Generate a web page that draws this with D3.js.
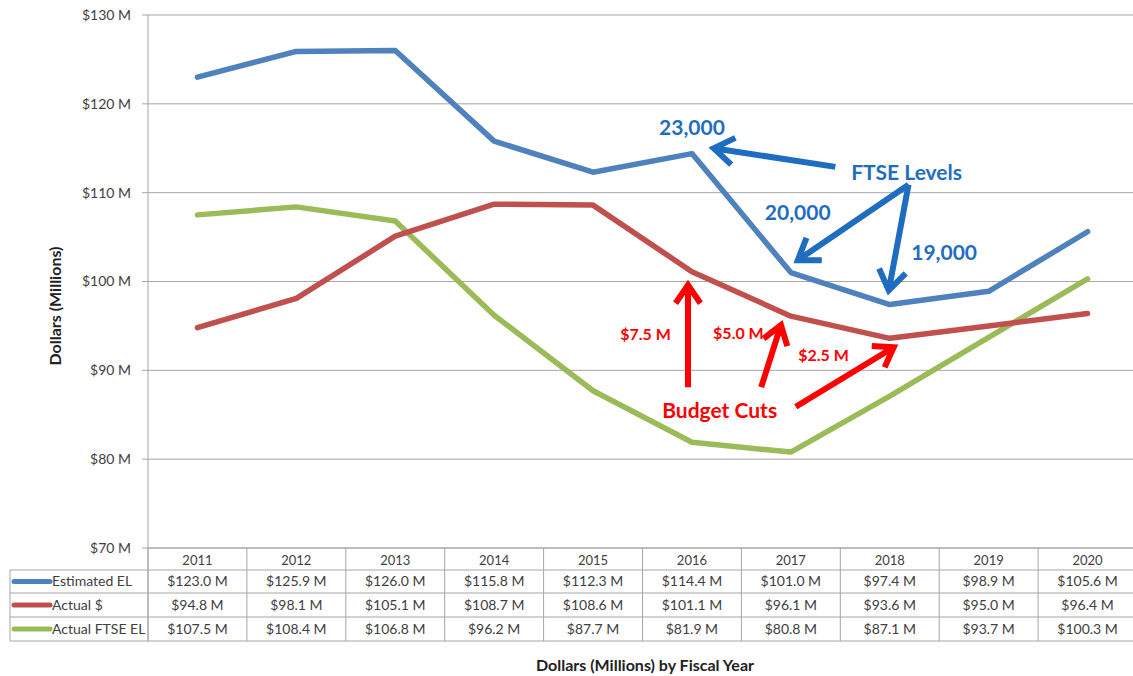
<!DOCTYPE html>
<html><head><meta charset="utf-8">
<script src="https://cdn.jsdelivr.net/npm/d3@7"></script>
<style>body{margin:0;background:#fff}svg{display:block;font-family:Lato,"Open Sans",sans-serif}</style>
</head><body><svg id="c" width="1133" height="676"></svg>
<script>
const years = ["2011","2012","2013","2014","2015","2016","2017","2018","2019","2020"];
const estimatedEL = [123.0,125.9,126.0,115.8,112.3,114.4,101.0,97.4,98.9,105.6];
const actualDollars = [94.8,98.1,105.1,108.7,108.6,101.1,96.1,93.6,95.0,96.4];
const actualFTSE = [107.5,108.4,106.8,96.2,87.7,81.9,80.8,87.1,93.7,100.3];
const seriesNames = ["Estimated EL","Actual $","Actual FTSE EL"];
const seriesColors = ["#4F81BD","#C0504D","#9BBB59"];
const yTicks = [70,80,90,100,110,120,130];
// annotations in data units: x = fractional year index offset from 2011, y = $M
const blueTexts = [["23,000",5.0,117.3],["FTSE Levels",7.17,112.3],["20,000",6.07,107.8],["19,000",7.55,103.2]];
const blueArrows = [[6.45,112.9,5.22,115.0],[7.19,110.9,6.07,102.4],[7.19,110.9,6.99,99.0]];
const redTexts = [["$7.5 M",4.53,94.0,16],["$5.0 M",5.47,94.2,16],["$2.5 M",6.33,91.7,16],["Budget Cuts",5.28,85.5,21]];
const redArrows = [[4.96,88.1,4.96,99.6],[5.70,88.1,5.90,95.1],[6.05,85.9,7.04,92.6]];

const svg = d3.select("#c");
const L = 148, R = 1137, T = 15, B = 548;
const x = d3.scalePoint().domain(years).range([L, R]).padding(0.5);
const step = x.step();
const xi = i => x(years[0]) + i*step;
const y = d3.scaleLinear().domain([70,130]).range([B, T]);
const grid = "#A6A6A6";
const txt = "#404040";

// gridlines
svg.append("g").selectAll("line").data(yTicks).join("line")
  .attr("x1", L-6).attr("x2", R).attr("y1", d=>y(d)).attr("y2", d=>y(d))
  .attr("stroke", grid).attr("stroke-width", 1);
// y axis line
svg.append("line").attr("x1",L).attr("x2",L).attr("y1",T).attr("y2",641).attr("stroke",grid);
// y tick labels
svg.append("g").selectAll("text").data(yTicks).join("text")
  .attr("x", 131).attr("y", d=>y(d)).attr("dy","0.35em").attr("text-anchor","end")
  .attr("font-size",14).attr("fill",txt).text(d=>"$"+d+" M");
// y title
svg.append("text").attr("transform",`translate(55,306) rotate(-90)`).attr("dy","0.35em")
  .attr("text-anchor","middle").attr("font-size",16).attr("font-weight","bold").attr("fill","#222")
  .text("Dollars (Millions)");

// lines
const data = [estimatedEL, actualDollars, actualFTSE];
const line = d3.line().x((d,i)=>x(years[i])).y(d=>y(d));
svg.append("g").selectAll("path").data([actualFTSE, actualDollars, estimatedEL]).join("path")
  .attr("d", line).attr("fill","none")
  .attr("stroke", d=>seriesColors[data.indexOf(d)]).attr("stroke-width",5.5)
  .attr("stroke-linejoin","round").attr("stroke-linecap","round");

// data table
const rowTop = [548,570,593,617,641];
const tg = svg.append("g");
tg.selectAll("line.h").data(rowTop).join("line")
  .attr("x1",(d,i)=> i===0 ? L : 10).attr("x2",R).attr("y1",d=>d).attr("y2",d=>d)
  .attr("stroke",grid);
const vx = d3.range(years.length+1).map(i => L + i*step);
tg.selectAll("line.v").data(vx).join("line")
  .attr("x1",d=>d).attr("x2",d=>d).attr("y1",B).attr("y2",641).attr("stroke",grid);
tg.append("line").attr("x1",10).attr("x2",10).attr("y1",570).attr("y2",641).attr("stroke",grid);
tg.selectAll("text.yr").data(years).join("text").attr("class","yr")
  .attr("x",d=>x(d)).attr("y",(rowTop[0]+rowTop[1])/2+1).attr("dy","0.35em")
  .attr("text-anchor","middle").attr("font-size",13).attr("fill",txt).text(d=>d);
data.forEach((vals,r)=>{
  const cy = (rowTop[r+1]+rowTop[r+2])/2;
  tg.append("line").attr("x1",14).attr("x2",50).attr("y1",cy).attr("y2",cy)
    .attr("stroke",seriesColors[r]).attr("stroke-width",5).attr("stroke-linecap","round");
  tg.append("text").attr("x",52).attr("y",cy).attr("dy","0.35em").attr("font-size",14)
    .attr("fill",txt).text(seriesNames[r]);
  tg.selectAll(null).data(vals).join("text")
    .attr("x",(d,i)=>x(years[i])).attr("y",cy).attr("dy","0.35em").attr("text-anchor","middle")
    .attr("font-size",14).attr("fill",txt).text(d=>"$"+d.toFixed(1)+" M");
});
svg.append("text").attr("x",645).attr("y",665).attr("dy","0.35em").attr("text-anchor","middle")
  .attr("font-size",16).attr("font-weight","bold").attr("fill","#222").text("Dollars (Millions) by Fiscal Year");

// annotations
function arrow(g, a, color, w, hl){
  const x1=xi(a[0]), y1=y(a[1]), x2=xi(a[2]), y2=y(a[3]);
  const ang = Math.atan2(y2-y1, x2-x1), s = 0.6;
  const p1 = [x2 - hl*Math.cos(ang - s), y2 - hl*Math.sin(ang - s)];
  const p2 = [x2 - hl*Math.cos(ang + s), y2 - hl*Math.sin(ang + s)];
  g.append("path").attr("d",`M${x1},${y1}L${x2},${y2}M${p1}L${x2},${y2}L${p2}`)
    .attr("fill","none").attr("stroke",color).attr("stroke-width",w)
    .attr("stroke-linejoin","miter").attr("stroke-linecap","butt");
}
const ag = svg.append("g");
const blue = "#1F6DC0", red = "#FF0000";
blueArrows.forEach(a=>arrow(ag,a,blue,6,24));
redArrows.forEach(a=>arrow(ag,a,red,6,22));
blueTexts.forEach(t=>ag.append("text").attr("x",xi(t[1])).attr("y",y(t[2])).attr("dy","0.35em")
  .attr("text-anchor","middle").attr("font-size",21).attr("font-weight","bold").attr("fill",blue).text(t[0]));
redTexts.forEach(t=>ag.append("text").attr("x",xi(t[1])).attr("y",y(t[2])).attr("dy","0.35em")
  .attr("text-anchor","middle").attr("font-size",t[3]).attr("font-weight","bold").attr("fill",red).text(t[0]));
</script></body></html>
